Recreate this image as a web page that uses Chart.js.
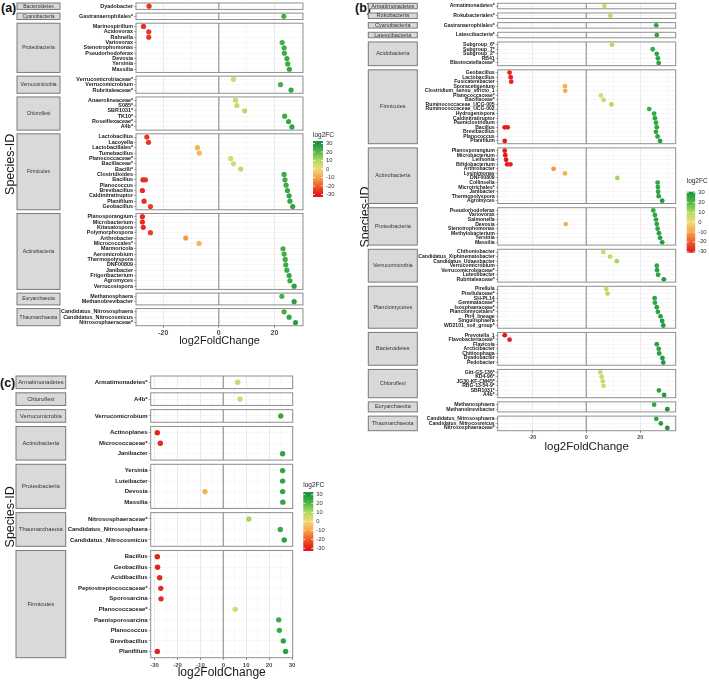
<!DOCTYPE html>
<html>
<head>
<meta charset="utf-8">
<script src="https://cdn.jsdelivr.net/npm/chart.js@4.4.0/dist/chart.umd.min.js"></script>
<style>
  body { margin: 0; background: #fff; width: 709px; height: 680px; position: relative; overflow: hidden; }
  .tag { position: absolute; font: bold 12.5px "Liberation Sans", Arial, sans-serif; line-height: 1; color: #111; }
  canvas { position: absolute; }
</style>
</head>
<body>
<div class="tag" style="left:1px;top:2px">(a)</div>
<div class="tag" style="left:355px;top:2px">(b)</div>
<div class="tag" style="left:0px;top:377px">(c)</div>
<canvas id="ca" width="355" height="352" style="left:0;top:0"></canvas>
<canvas id="cb" width="354" height="454" style="left:355px;top:0"></canvas>
<canvas id="cc" width="345" height="308" style="left:0;top:372px"></canvas>
<script>
// ---- panel (a) ----
const aPhyla = ['Bacteroidetes', 'Cyanobacteria', 'Proteobacteria', 'Verrucomicrobia', 'Chloroflexi',
  'Firmicutes', 'Actinobacteria', 'Euryarchaeota', 'Thaumarchaeota'];
const aSpecies = [
  ['Dyadobacter'],
  ['Gastranaerophilales*'],
  ['Marinospirillum', 'Acidovorax', 'Rahnella', 'Variovorax', 'Stenotrophomonas', 'Pseudorhodoferax', 'Devosia', 'Yersinia', 'Massilia'],
  ['Verrucomicrobiaceae*', 'Verrucomicrobium', 'Rubritaleaceae*'],
  ['Anaerolineaceae*', 'S085*', 'SBR1031*', 'TK10*', 'Roseiflexaceae*', 'A4b*'],
  ['Lactobacillus', 'Lacoyella', 'Lactobacillales*', 'Tumebacillus', 'Planococcaceae*', 'Bacillaceae*', 'Bacilli*',
   'Clostridioides', 'Bacillus', 'Planococcus', 'Brevibacillus', 'Caldinitratiruptor', 'Planifilum', 'Geobacillus'],
  ['Planosporangium', 'Microbacterium', 'Kitasatospora', 'Polymorphospora', 'Arthrobacter', 'Micrococcales*', 'Marmoricola',
   'Aeromicrobium', 'Thermopolyspora', 'DNF00809', 'Janibacter', 'Frigoribacterium', 'Agromyces', 'Verrucosispora'],
  ['Methanosphaera', 'Methanobrevibacter'],
  ['Candidatus_Nitrososphaera', 'Candidatus_Nitrocosmicus', 'Nitrososphaeraceae*']
];
const aLfc = [
  [[-25.1]],
  [[23.4]],
  [[-27.1], [-25.2], [-25.2], [22.8], [23.5], [23.6], [24.5], [24.8], [25.4]],
  [[5.3], [22.2], [26.0]],
  [[6.0], [6.5], [9.3], [23.7], [25.1], [26.3]],
  [[-25.9], [-25.3], [-7.7], [-7.0], [4.3], [5.3], [7.9], [23.5], [-27.3, -26.4, 23.8], [24.2], [-27.5, 24.7], [25.3], [-26.9, 25.6], [-24.6, 26.6]],
  [[-27.5], [-27.5], [-27.2], [-24.6], [-11.9], [-7.1], [23.1], [23.5], [23.9], [24.1], [24.5], [25.3], [25.6], [27.1]],
  [[22.7], [27.1]],
  [[23.5], [25.3], [27.6]]
];

// ---- panel (b) ----
const bPhyla = ['Armatimonadetes', 'Rokubacteria', 'Cyanobacteria', 'Latescibacteria', 'Acidobacteria', 'Firmicutes',
  'Actinobacteria', 'Proteobacteria', 'Verrucomicrobia', 'Planctomycetes', 'Bacteroidetes', 'Chloroflexi',
  'Euryarchaeota', 'Thaumarchaeota'];
const bSpecies = [
  ['Armatimonadetes*'],
  ['Rokubacteriales*'],
  ['Gastranaerophilales*'],
  ['Latescibacteria*'],
  ['Subgroup_6*', 'Subgroup_7*', 'Subgroup_2*', 'RB41', 'Blastocatellaceae*'],
  ['Geobacillus', 'Lactobacillus', 'Fusicatenibacter', 'Sporacetigenium', 'Clostridium_sensu_stricto_1', 'Planococcaceae*',
   'Bacillaceae*', 'Ruminococcaceae_UCG-005', 'Ruminococcaceae_UCG-002', 'Hydrogenispora', 'Caldinitratiruptor',
   'Paeniclostridium', 'Bacillus', 'Brevibacillus', 'Planococcus', 'Planifilum'],
  ['Planosporangium', 'Microbacterium', 'Leifsonia', 'Bifidobacterium', 'Arthrobacter', 'Lysinimonas', 'DNF00809',
   'Collinsella', 'Microtrichales*', 'Janibacter', 'Thermopolyspora', 'Agromyces'],
  ['Pseudorhodoferax', 'Variovorax', 'Salmonella', 'Devosia', 'Stenotrophomonas', 'Methylobacterium', 'Yersinia', 'Massilia'],
  ['Chthoniobacter', 'Candidatus_Xiphinematobacter', 'Candidatus_Udaeobacter', 'Verrucomicrobium', 'Verrucomicrobiaceae*',
   'Luteolibacter', 'Rubritaleaceae*'],
  ['Pirellula', 'Pirellulaceae*', 'SH-PL14', 'Gemmataceae*', 'Isosphaeraceae*', 'Planctomycetales*', 'Pir4_lineage',
   'Singulisphaera', 'WD2101_soil_group*'],
  ['Prevotella_1', 'Flavobacteriaceae*', 'Flavicola', 'Arcticibacter', 'Chitinophaga', 'Dyadobacter', 'Pedobacter'],
  ['Gitt-GS-136*', 'KD4-96*', 'JG30-KF-CM45*', 'RBG-13-54-9*', 'SBR1031*', 'A4b*'],
  ['Methanosphaera', 'Methanobrevibacter'],
  ['Candidatus_Nitrososphaera', 'Candidatus_Nitrocosmicus', 'Nitrososphaeraceae*']
];
const bLfc = [
  [[6.7]],
  [[8.9]],
  [[25.9]],
  [[26.1]],
  [[9.5], [24.6], [26.1], [26.5], [26.8]],
  [[-28.4], [-28.0], [-27.8], [-7.9], [-7.8], [5.4], [6.4], [9.3], [23.3], [25.1], [25.4], [25.8], [-30.2, -29.1, 26.1], [25.8], [26.4], [-30.2, 27.3]],
  [[-30.2], [-30.0], [-29.7], [-29.3, -28.1], [-12.1], [-7.9], [11.5], [26.4], [26.5], [26.6], [26.8], [28.1]],
  [[24.8], [25.4], [25.8], [-7.6, 26.1], [26.4], [26.9], [27.3], [28.1]],
  [[6.3], [8.8], [11.3], [26.1], [26.2], [26.6], [28.7]],
  [[7.4], [7.9], [25.3], [25.4], [26.1], [26.5], [27.5], [28.1], [28.5]],
  [[-30.2], [-28.4], [26.1], [26.8], [27.0], [28.2], [28.5]],
  [[5.2], [5.7], [6.1], [6.4], [26.9], [28.8]],
  [[25.1], [30.0]],
  [[25.9], [27.6], [30.0]]
];

// ---- panel (c) ----
const cPhyla = ['Armatimonadetes', 'Chloroflexi', 'Verrucomicrobia', 'Actinobacteria', 'Proteobacteria', 'Thaumarchaeota', 'Firmicutes'];
const cSpecies = [
  ['Armatimonadetes*'],
  ['A4b*'],
  ['Verrucomicrobium'],
  ['Actinoplanes', 'Micrococcaceae*', 'Janibacter'],
  ['Yersinia', 'Luteibacter', 'Devosia', 'Massilia'],
  ['Nitrososphaeraceae*', 'Candidatus_Nitrososphaera', 'Candidatus_Nitrocosmicus'],
  ['Bacillus', 'Geobacillus', 'Acidibacillus', 'Peptostreptococcaceae*', 'Sporosarcina', 'Planococcaceae*',
   'Paenisporosarcina', 'Planococcus', 'Brevibacillus', 'Planifilum']
];
const cLfc = [
  [[6.3]],
  [[7.3]],
  [[25.1]],
  [[-28.8], [-27.5], [25.9]],
  [[25.9], [25.9], [-8.0, 25.9], [26.0]],
  [[11.2], [24.9], [26.6]],
  [[-28.8], [-28.7], [-27.8], [-27.3], [-27.2], [5.2], [24.2], [24.5], [26.2], [-28.8, 27.2]]
];

const gridTicks = [-30, -25, -20, -15, -10, -5, 0, 5, 10, 15, 20, 25, 30];
const abTickLabels = [-20, 0, 20];
const cTickLabels = [-30, -20, -10, 0, 10, 20, 30];
const legendTicks = [30, 20, 10, 0, -10, -20, -30];

Chart.defaults.font.family = '"Liberation Sans", Arial, sans-serif';

const colorStops = [[-30, '#e31a1c'], [-20, '#ee5a2c'], [-10, '#f7a64b'], [0, '#f3d87c'],
                    [10, '#b3db62'], [20, '#56b847'], [30, '#1a9641']];

function hexRgb(h) {
  return [parseInt(h.slice(1, 3), 16), parseInt(h.slice(3, 5), 16), parseInt(h.slice(5, 7), 16)];
}
function colorFor(v) {
  if (v <= colorStops[0][0]) return colorStops[0][1];
  for (let i = 1; i < colorStops.length; i++) {
    if (v <= colorStops[i][0]) {
      const [v0, c0] = colorStops[i - 1], [v1, c1] = colorStops[i];
      const t = (v - v0) / (v1 - v0), a = hexRgb(c0), b = hexRgb(c1);
      return 'rgb(' + a.map((x, k) => Math.round(x + (b[k] - x) * t)).join(',') + ')';
    }
  }
  return colorStops[colorStops.length - 1][1];
}

function facetLayout(species, gap) {
  const rows = [], boxes = [];
  let pos = 0.6;
  species.forEach(list => {
    const start = pos;
    list.forEach((s, i) => rows.push({ pos: start + i, label: s }));
    boxes.push({ lo: start - 0.6, hi: start + list.length - 1 + 0.6, start: start });
    pos = start + list.length - 1 + 1.2 + gap;
  });
  return { rows, boxes, max: boxes[boxes.length - 1].hi };
}

const facetPlugin = {
  id: 'facets',
  beforeDatasetsDraw(chart, args, o) {
    const { ctx, chartArea: ca, scales: { x, y } } = chart;
    ctx.save();
    // white gaps between facets
    ctx.fillStyle = '#fff';
    o.boxes.forEach((b, i) => {
      if (i === 0) return;
      const top = y.getPixelForValue(o.boxes[i - 1].hi), bot = y.getPixelForValue(b.lo);
      ctx.fillRect(ca.left - 1, top + 0.5, ca.right - ca.left + 2, bot - top - 1);
    });
    const x0 = x.getPixelForValue(0);
    o.boxes.forEach((b, i) => {
      const top = y.getPixelForValue(b.lo), bot = y.getPixelForValue(b.hi);
      ctx.strokeStyle = '#a3a3a3';
      ctx.lineWidth = 1.4;
      ctx.beginPath(); ctx.moveTo(x0, top); ctx.lineTo(x0, bot); ctx.stroke();
      ctx.strokeStyle = '#8f8f8f';
      ctx.lineWidth = 1;
      ctx.strokeRect(ca.left, top, ca.right - ca.left, bot - top);
      // strip box
      ctx.fillStyle = '#d9d9d9';
      ctx.fillRect(o.stripX0, top, o.stripX1 - o.stripX0, bot - top);
      ctx.strokeStyle = '#7a7a7a';
      ctx.strokeRect(o.stripX0, top, o.stripX1 - o.stripX0, bot - top);
      ctx.fillStyle = '#333';
      ctx.font = o.stripFont + 'px "Liberation Sans", Arial, sans-serif';
      ctx.textAlign = 'center';
      ctx.textBaseline = 'middle';
      ctx.fillText(o.phyla[i], (o.stripX0 + o.stripX1) / 2, (top + bot) / 2);
    });
    ctx.restore();
  },
  afterDraw(chart, args, o) {
    const ctx = chart.ctx, L = o.legend;
    ctx.save();
    const g = ctx.createLinearGradient(0, L.y + L.h, 0, L.y);
    colorStops.forEach(([v, c]) => g.addColorStop((v + L.lim) / (2 * L.lim), c));
    g.addColorStop(0, colorStops[0][1]);
    g.addColorStop(1, colorStops[colorStops.length - 1][1]);
    ctx.fillStyle = g;
    ctx.fillRect(L.x, L.y, L.w, L.h);
    ctx.fillStyle = '#222';
    ctx.font = L.titleSize + 'px "Liberation Sans", Arial, sans-serif';
    ctx.textAlign = 'left';
    ctx.textBaseline = 'middle';
    ctx.fillText('log2FC', L.x, L.titleY);
    ctx.font = L.labelSize + 'px "Liberation Sans", Arial, sans-serif';
    ctx.fillStyle = '#333';
    legendTicks.forEach(v => {
      const py = L.y + (L.lim - v) / (2 * L.lim) * L.h;
      ctx.strokeStyle = '#fff';
      ctx.lineWidth = 0.8;
      ctx.beginPath();
      ctx.moveTo(L.x, py); ctx.lineTo(L.x + 2, py);
      ctx.moveTo(L.x + L.w - 2, py); ctx.lineTo(L.x + L.w, py);
      ctx.stroke();
      ctx.fillText(String(v), L.x + L.w + 3, py);
    });
    ctx.restore();
  }
};

function makePanel(id, cfg) {
  const lay = facetLayout(cfg.species, cfg.gap);
  const labelAt = new Map(lay.rows.map(r => [r.pos, r.label]));
  const points = [];
  cfg.lfc.forEach((facet, f) => facet.forEach((vals, i) =>
    vals.forEach(v => points.push({ x: v, y: lay.boxes[f].start + i }))));
  const isMajor = v => cfg.tickLabels.includes(v);
  const majorStep = cfg.tickLabels.length > 3 ? 10 : 20;

  return new Chart(document.getElementById(id), {
    type: 'scatter',
    data: {
      datasets: [{
        data: points,
        pointRadius: cfg.radius,
        pointHoverRadius: cfg.radius,
        borderWidth: 0,
        backgroundColor: c => colorFor(c.raw ? c.raw.x : 0),
        clip: false
      }]
    },
    options: {
      responsive: false,
      animation: false,
      events: [],
      layout: { padding: { top: cfg.padTop, right: cfg.padRight, left: 0, bottom: 0 } },
      plugins: {
        legend: { display: false },
        tooltip: { enabled: false },
        facets: {
          boxes: lay.boxes, phyla: cfg.phyla, stripX0: cfg.stripX0, stripX1: cfg.stripX1,
          stripFont: cfg.stripFont, legend: cfg.legend
        }
      },
      scales: {
        x: {
          type: 'linear',
          min: cfg.xmin,
          max: cfg.xmax,
          afterBuildTicks: s => {
            s.ticks = gridTicks.filter(v => v >= cfg.xmin && v <= cfg.xmax &&
              (cfg.tickLabels.length > 3 || v % 10 === 0)).map(v => ({ value: v }));
          },
          afterFit: s => { s.height = cfg.xAxisH; s.paddingLeft = 0; s.paddingRight = 0; },
          grid: {
            color: c => isMajor(c.tick.value) ? '#e4e4e4' : '#f1f1f1',
            lineWidth: c => isMajor(c.tick.value) ? 0.8 : 0.5,
            tickLength: 2,
            tickColor: c => isMajor(c.tick.value) ? '#555' : 'rgba(0,0,0,0)'
          },
          border: { display: false },
          ticks: {
            autoSkip: false,
            maxRotation: 0,
            padding: cfg.xTickPad,
            color: '#4d4d4d',
            font: { size: cfg.xTickSize, weight: 'bold' },
            callback: v => isMajor(v) ? String(v) : ''
          },
          title: {
            display: true,
            text: 'log2FoldChange',
            color: '#1a1a1a',
            font: { size: cfg.xTitleSize },
            padding: { top: 0, bottom: cfg.xTitlePad }
          }
        },
        y: {
          type: 'linear',
          reverse: true,
          min: 0,
          max: lay.max,
          afterBuildTicks: s => { s.ticks = lay.rows.map(r => ({ value: r.pos })); },
          afterFit: s => { s.width = cfg.yAxisW; s.paddingTop = 0; s.paddingBottom = 0; },
          grid: { color: '#efefef', lineWidth: 0.5, tickLength: 2, tickColor: '#555' },
          border: { display: false },
          ticks: {
            autoSkip: false,
            padding: 1,
            color: '#1a1a1a',
            font: { size: cfg.labelSize, weight: 'bold' },
            callback: v => labelAt.get(v)
          },
          title: {
            display: true,
            text: 'Species-ID',
            color: '#1a1a1a',
            font: { size: 12.5 },
            padding: { top: 3 }
          }
        }
      }
    },
    plugins: [facetPlugin]
  });
}

makePanel('ca', {
  phyla: aPhyla, species: aSpecies, lfc: aLfc, gap: 0.69,
  xmin: -29.8, xmax: 30.3, tickLabels: abTickLabels,
  padTop: 3, padRight: 52, yAxisW: 136, xAxisH: 26.3,
  xTickPad: 1, xTickSize: 7, xTitleSize: 11, xTitlePad: 4.4,
  labelSize: 5.4, stripFont: 5, stripX0: 17, stripX1: 60, radius: 2.6,
  legend: { x: 313, y: 141, w: 10, h: 56, lim: 33, titleY: 135, titleSize: 6.5, labelSize: 5.8 }
});

makePanel('cb', {
  phyla: bPhyla, species: bSpecies, lfc: bLfc, gap: 0.92,
  xmin: -32.8, xmax: 33.1, tickLabels: abTickLabels,
  padTop: 3.3, padRight: 33.3, yAxisW: 142.7, xAxisH: 23.3,
  xTickPad: 1.5, xTickSize: 5.5, xTitleSize: 11.5, xTitlePad: 0.4,
  labelSize: 5.1, stripFont: 5.5, stripX0: 13.3, stripX1: 62.3, radius: 2.4,
  legend: { x: 331.7, y: 191.7, w: 8.5, h: 61, lim: 31, titleY: 181.7, titleSize: 6.5, labelSize: 5.8 }
});

makePanel('cc', {
  phyla: cPhyla, species: cSpecies, lfc: cLfc, gap: 0.4,
  xmin: -31.7, xmax: 30.3, tickLabels: cTickLabels,
  padTop: 4, padRight: 52.3, yAxisW: 150.7, xAxisH: 22.3,
  xTickPad: 2, xTickSize: 6, xTitleSize: 12, xTitlePad: 0,
  labelSize: 6, stripFont: 5.8, stripX0: 16, stripX1: 65.7, radius: 2.7,
  legend: { x: 303.3, y: 120, w: 10, h: 59, lim: 33, titleY: 113, titleSize: 6.5, labelSize: 5.8 }
});
</script>
</body>
</html>
